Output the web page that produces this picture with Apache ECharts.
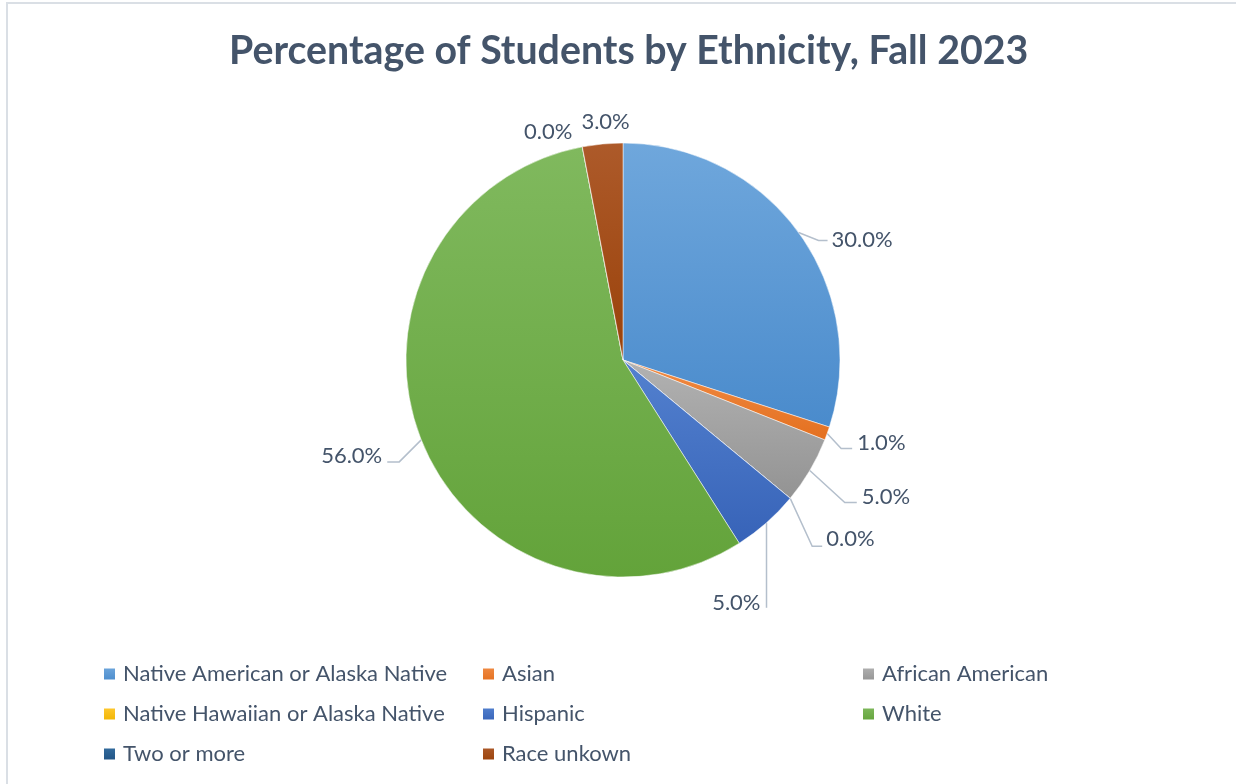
<!DOCTYPE html>
<html>
<head>
<meta charset="utf-8">
<title>Percentage of Students by Ethnicity, Fall 2023</title>
<script src="https://cdn.jsdelivr.net/npm/echarts@6/dist/echarts.min.js"></script>
<style>
  html, body { margin: 0; padding: 0; background: #ffffff; }
  #frame {
    position: absolute; left: 6px; top: 2px; width: 1230px; height: 782px;
    border-left: 2px solid #dadfe5; border-top: 2px solid #dadfe5; box-sizing: border-box;
  }
  #chart { position: absolute; left: 0; top: 0; width: 1236px; height: 784px; }
</style>
</head>
<body>
<div id="frame"></div>
<div id="chart"></div>
<script>
// Enrollment share by ethnicity (percent), in slice order starting at 12 o'clock
const categories = [
  'Native American or Alaska Native',
  'Asian',
  'African American',
  'Native Hawaiian or Alaska Native',
  'Hispanic',
  'White',
  'Two or more',
  'Race unkown'
];
const percentages = [30.0, 1.0, 5.0, 0.0, 5.0, 56.0, 0.0, 3.0];

// Office-style palette: [lighter top, darker bottom]
const palette = [
  ['#6fa7dc', '#4a8bcc'],
  ['#f08b45', '#e4701f'],
  ['#b2b2b2', '#939393'],
  ['#ffc933', '#f0b400'],
  ['#5381cf', '#3763b8'],
  ['#80b95e', '#63a33a'],
  ['#346d9f', '#1f5283'],
  ['#ad5a2a', '#9a420a']
];

const textColor = '#44546a';

function gradient(pair) {
  return new echarts.graphic.LinearGradient(0, 0, 0, 1, [
    { offset: 0, color: pair[0] },
    { offset: 1, color: pair[1] }
  ]);
}

// Callout placement for each slice label, relative to where its leader
// leaves the pie edge: bend = elbow offset, run = horizontal tail,
// side = which way the text hangs off the tail.
const callouts = [
  { bend: [20, 8],   run: 9,  side: 'right', gap: 4, lift: -1 },
  { bend: [14, 15],  run: 11, side: 'right', gap: 5, lift: -6 },
  { bend: [35, 32],  run: 12, side: 'right', gap: 5, lift: -6 },
  { bend: [22, 48],  run: 10, side: 'right', gap: 4, lift: -7 },
  { bend: [0, 85],   run: 0,  side: 'left',  gap: 6, lift: -5 },
  { bend: [-22, 22], run: 12, side: 'left',  gap: 5, lift: -6 },
  { bend: [0, 0],    run: 0,  side: 'left',  gap: 0, free: [-10, -15] },
  { bend: [0, 0],    run: 0,  side: 'center', gap: 0, free: [3, -22] }
];

const anchorFor = { right: 'left', left: 'right', center: 'center' };

const pieData = categories.map((name, i) => ({
  name: name,
  value: percentages[i],
  itemStyle: { color: gradient(palette[i]) },
  labelLine: { show: !callouts[i].free }
}));

// Legend laid out as three columns, filled row by row
const legendColumns = [
  [categories[0], categories[3], categories[6]],
  [categories[1], categories[4], categories[7]],
  [categories[2], categories[5]]
];
const legendLeft = [97, 476, 856];

const chart = echarts.init(document.getElementById('chart'), null, { renderer: 'canvas' });

chart.setOption({
  backgroundColor: 'transparent',
  animation: false,
  title: {
    text: 'Percentage of Students by Ethnicity, Fall 2023',
    left: 224,
    top: 27,
    textStyle: {
      fontFamily: 'Lato',
      fontWeight: 'bold',
      fontSize: 39.3,
      color: textColor
    }
  },
  legend: legendColumns.map((col, k) => ({
    data: col,
    orient: 'vertical',
    left: legendLeft[k],
    top: 658,
    itemWidth: 13,
    itemHeight: 13,
    itemGap: 18,
    icon: 'rect',
    selectedMode: false,
    textStyle: {
      fontFamily: 'Lato',
      fontSize: 22,
      lineHeight: 22,
      color: textColor,
      padding: [0, 0, 0, 2]
    }
  })),
  series: [{
    type: 'pie',
    center: [623, 360],
    radius: [0, 217],
    startAngle: 90,
    clockwise: true,
    avoidLabelOverlap: false,
    itemStyle: { borderColor: '#ffffff', borderWidth: 0.5 },
    label: {
      show: true,
      formatter: p => p.value.toFixed(1) + '%',
      fontFamily: 'Lato',
      fontSize: 22,
      color: textColor
    },
    labelLine: {
      show: true,
      length: 10,
      length2: 10,
      lineStyle: { color: '#b4bfcc', width: 1.5 }
    },
    labelLayout: function (params) {
      const c = callouts[params.dataIndex];
      const edge = params.labelLinePoints ? params.labelLinePoints[0] : null;
      if (!edge) { return {}; }
      const align = anchorFor[c.side];
      if (c.free) {
        return {
          x: edge[0] + c.free[0],
          y: edge[1] + c.free[1],
          align: align,
          verticalAlign: 'middle'
        };
      }
      const elbow = [edge[0] + c.bend[0], edge[1] + c.bend[1]];
      const dir = c.side === 'left' ? -1 : 1;
      const tail = [elbow[0] + dir * c.run, elbow[1]];
      return {
        x: tail[0] + dir * c.gap,
        y: tail[1] + c.lift,
        align: align,
        verticalAlign: 'middle',
        labelLinePoints: [edge, elbow, tail]
      };
    },
    emphasis: { disabled: true },
    data: pieData
  }]
});
</script>
</body>
</html>
